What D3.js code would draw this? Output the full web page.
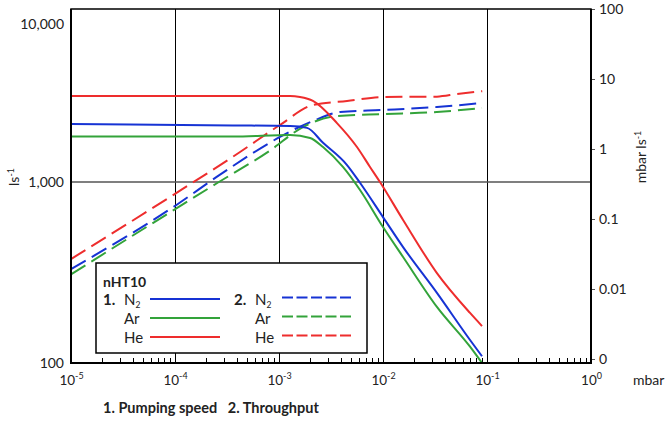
<!DOCTYPE html>
<html>
<head>
    <meta charset="utf-8">
    <script src="https://d3js.org/d3.v7.min.js"></script>
    <style>
        body { margin: 0; background: #fff; }
        text { font-family: Lato, "Liberation Sans", sans-serif; fill: #222; }
        .curve { fill: none; stroke-width: 2; }
        .grid line, .minor line { shape-rendering: crispEdges; }
    </style>
</head>
<body>
    <div id="chart"></div>
    <script>
        // pumping speed (l/s) vs inlet pressure (mbar)
        var n2SpeedP = [1e-5, 3.61e-4, 1.28e-3, 1.86e-3, 2.65e-3, 4.51e-3, 6.01e-3, 1e-2, 1.56e-2, 3.3e-2, 6.87e-2, 8.95e-2];
        var n2Speed = [2330, 2280, 2260, 2200, 1770, 1280, 990, 640, 437, 244, 134, 109];

        var arSpeedP = [1e-5, 3.61e-4, 1.28e-3, 1.99e-3, 2.65e-3, 4.12e-3, 6.01e-3, 1e-2, 1.56e-2, 3.3e-2, 6.87e-2, 8.95e-2];
        var arSpeed = [1940, 1940, 1985, 1900, 1665, 1245, 903, 564, 385, 204, 123, 100];

        var heSpeedP = [1e-5, 1.28e-3, 1.59e-3, 2.12e-3, 3.61e-3, 5.62e-3, 7.5e-3, 9.35e-3, 1.56e-2, 3.3e-2, 6.87e-2, 8.95e-2];
        var heSpeed = [3500, 3500, 3450, 3260, 2360, 1665, 1245, 1000, 617, 314, 189, 160];

        // throughput (mbar l/s) vs inlet pressure (mbar)
        var n2FlowP = [1e-5, 1.04e-4, 2.71e-4, 1e-3, 1.43e-3, 2.12e-3, 3.87e-3, 1e-2, 3.3e-2, 8.95e-2];
        var n2Flow = [0.0193, 0.16, 0.43, 1.46, 1.93, 2.51, 3.38, 3.61, 3.98, 4.54];

        var arFlowP = [1e-5, 2.32e-4, 8.18e-4, 1.70e-3, 3.61e-3, 1e-2, 3.3e-2, 8.95e-2];
        var arFlow = [0.0162, 0.30, 0.95, 2.06, 2.96, 3.16, 3.38, 3.85];

        var heFlowP = [1e-5, 8.95e-5, 4.22e-4, 1.02e-3, 2.12e-3, 4.51e-3, 1e-2, 3.3e-2, 5.15e-2, 9.0e-2];
        var heFlow = [0.0268, 0.206, 0.906, 2.20, 4.25, 4.85, 5.53, 5.6, 6.1, 6.7];

        var xTicks = [1e-5, 1e-4, 1e-3, 1e-2, 1e-1, 1];
        var xTickExp = ["-5", "-4", "-3", "-2", "-1", "0"];
        var leftTicks = [100, 1000, 10000];
        var rightTicks = [100, 10, 1, 0.1, 0.01, 0.001];
        var rightTickLabels = ["100", "10", "1", "0.1", "0.01", "0"];

        var gasNames = ["N", "Ar", "He"];
        var gasColors = ["#1633d4", "#33a33a", "#ee2d2d"];

        var w = 670, h = 422,
            mLeft = 71, mRight = 591, mTop = 9, mBottom = 363;

        var x = d3.scaleLog().domain([1e-5, 1]).range([mLeft, mRight]);
        // the left labels are not evenly spaced in the original, so piecewise
        var yLeft = d3.scaleLog().domain([100, 1000, 10000]).range([mBottom, 182, 24]);
        var yRight = d3.scaleLog().domain([0.001, 100]).range([359, mTop]);

        var svg = d3.select('#chart').append('svg')
            .attr('width', w).attr('height', h);

        // grid
        svg.append('g').attr('class', 'grid').selectAll('line')
            .data(xTicks.slice(1, 5))
            .enter().append('line')
            .attr('x1', function (d) { return x(d); })
            .attr('x2', function (d) { return x(d); })
            .attr('y1', mTop).attr('y2', mBottom)
            .attr('stroke', '#000').attr('stroke-width', 1);

        svg.append('line')
            .attr('x1', mLeft).attr('x2', mRight)
            .attr('y1', yLeft(1000)).attr('y2', yLeft(1000))
            .attr('stroke', '#555').attr('stroke-width', 1.5);

        // minor ticks on the pressure axis
        var minor = [];
        xTicks.slice(0, 5).forEach(function (t) {
            for (var k = 2; k < 10; k++) minor.push(t * k);
        });
        svg.append('g').attr('class', 'minor').selectAll('line')
            .data(minor)
            .enter().append('line')
            .attr('x1', function (d) { return x(d); })
            .attr('x2', function (d) { return x(d); })
            .attr('y1', mBottom).attr('y2', mBottom - 5)
            .attr('stroke', '#000').attr('stroke-width', 1);

        // curves
        function zip(ps, vs) {
            return ps.map(function (p, i) { return { p: p, v: vs[i] }; });
        }

        var lineLeft = d3.line()
            .x(function (d) { return x(d.p); })
            .y(function (d) { return yLeft(d.v); })
            .curve(d3.curveMonotoneX);

        var lineRight = d3.line()
            .x(function (d) { return x(d.p); })
            .y(function (d) { return yRight(d.v); })
            .curve(d3.curveMonotoneX);

        var speeds = [zip(n2SpeedP, n2Speed), zip(arSpeedP, arSpeed), zip(heSpeedP, heSpeed)];
        var flows = [zip(n2FlowP, n2Flow), zip(arFlowP, arFlow), zip(heFlowP, heFlow)];

        svg.append('g').selectAll('path')
            .data(flows)
            .enter().append('path')
            .attr('class', 'curve')
            .attr('d', lineRight)
            .attr('stroke', function (d, i) { return gasColors[i]; })
            .attr('stroke-dasharray', '17,7');

        svg.append('g').selectAll('path')
            .data(speeds)
            .enter().append('path')
            .attr('class', 'curve')
            .attr('d', lineLeft)
            .attr('stroke', function (d, i) { return gasColors[i]; });

        // legend
        var lg = svg.append('g').attr('transform', 'translate(96,263)');
        lg.append('rect')
            .attr('width', 271).attr('height', 90)
            .attr('fill', '#fff').attr('stroke', '#000').attr('stroke-width', 1.5);
        lg.append('text').attr('x', 7).attr('y', 24)
            .style('font-size', '14px').style('font-weight', 'bold').text('nHT10');

        [0, 1].forEach(function (col) {
            var cx = col * 131;
            lg.append('text').attr('x', cx + 7).attr('y', 42)
                .style('font-size', '15px').style('font-weight', 'bold').text((col + 1) + '.');
            gasNames.forEach(function (g, i) {
                var t = lg.append('text').attr('x', cx + 28).attr('y', 42 + i * 19)
                    .style('font-size', '15px').text(g);
                if (i == 0) t.append('tspan').attr('dy', 3).style('font-size', '8.5px').text('2');
                lg.append('line')
                    .attr('x1', cx + 54 + col * 1).attr('x2', cx + 124 + col * 1)
                    .attr('y1', 36 + i * 19 - col * 1.5).attr('y2', 36 + i * 19 - col * 1.5)
                    .attr('stroke', gasColors[i]).attr('stroke-width', 2)
                    .attr('stroke-dasharray', col ? '11,3.5' : null);
            });
        });

        // axes
        var axL = svg.append('g').attr('transform', 'translate(' + mLeft + ',0)')
            .call(d3.axisLeft(yLeft).tickValues(leftTicks).tickFormat(d3.format(',')).tickSize(0).tickPadding(7));
        axL.select('.domain').remove();
        axL.selectAll('text').style('font-size', '14px').attr('fill', '#222');

        var axR = svg.append('g').attr('transform', 'translate(' + mRight + ',0)')
            .call(d3.axisRight(yRight).tickValues(rightTicks)
                .tickFormat(function (d, i) { return rightTickLabels[i]; })
                .tickSize(4).tickPadding(4));
        axR.select('.domain').remove();
        axR.selectAll('line').attr('stroke', '#555');
        axR.selectAll('text').style('font-size', '14px').attr('fill', '#222');

        var axB = svg.append('g').attr('transform', 'translate(0,' + mBottom + ')')
            .call(d3.axisBottom(x).tickValues(xTicks).tickSize(0).tickPadding(0).tickFormat(''));
        axB.select('.domain').remove();
        axB.selectAll('.tick text').each(function (d, i) {
            var t = d3.select(this).attr('y', 22).attr('dy', 0)
                .style('font-size', '13.5px').attr('fill', '#222');
            t.text('10');
            t.append('tspan').attr('dy', -6).style('font-size', '9px').text(xTickExp[i]);
        });

        // frame
        svg.append('rect')
            .attr('x', mLeft).attr('y', mTop)
            .attr('width', mRight - mLeft).attr('height', mBottom - mTop)
            .attr('fill', 'none').attr('stroke', '#000').attr('stroke-width', 1.5);
        svg.append('path')
            .attr('d', 'M' + mLeft + ',' + mTop + 'V' + mBottom + 'H' + mRight + 'V' + mTop)
            .attr('fill', 'none').attr('stroke', '#000').attr('stroke-width', 2);

        // titles
        svg.append('text').attr('x', 633).attr('y', 385)
            .style('font-size', '14px').text('mbar');

        var yl = svg.append('text')
            .attr('transform', 'translate(19,177) rotate(-90)')
            .attr('text-anchor', 'middle').style('font-size', '14px').text('ls');
        yl.append('tspan').attr('dy', -5).style('font-size', '9px').text('-1');

        var yr = svg.append('text')
            .attr('transform', 'translate(646,157) rotate(-90)')
            .attr('text-anchor', 'middle').style('font-size', '14px').text('mbar ls');
        yr.append('tspan').attr('dy', -5).style('font-size', '9px').text('-1');

        svg.append('text').attr('x', 103).attr('y', 413)
            .style('font-size', '14.5px').style('font-weight', 'bold')
            .attr('xml:space', 'preserve')
            .text('1. Pumping speed   2. Throughput');
    </script>
</body>
</html>
